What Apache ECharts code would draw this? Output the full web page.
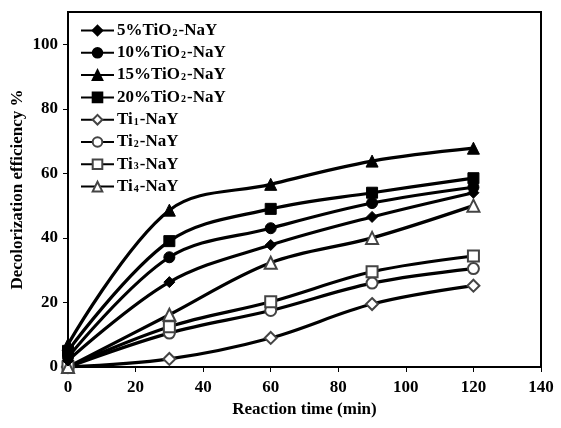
<!DOCTYPE html>
<html><head><meta charset="utf-8">
<script src="https://cdn.jsdelivr.net/npm/echarts@6/dist/echarts.min.js"></script>
<style>html,body{margin:0;padding:0;background:#fff}#c{width:561px;height:428px}</style>
</head><body><div id="c"></div>
<script>
const times = [0, 30, 60, 90, 120];
const names = ['5%TiO2-NaY','10%TiO2-NaY','15%TiO2-NaY','20%TiO2-NaY','Ti1-NaY','Ti2-NaY','Ti3-NaY','Ti4-NaY'];
const labels = ['5%TiO{s|2}-NaY','10%TiO{s|2}-NaY','15%TiO{s|2}-NaY','20%TiO{s|2}-NaY','Ti{s|1}-NaY','Ti{s|2}-NaY','Ti{s|3}-NaY','Ti{s|4}-NaY'];
const tio2_5  = [2, 26.3, 37.8, 46.5, 54];
const tio2_10 = [3, 34, 43, 50.8, 55.7];
const tio2_15 = [7, 48.6, 56.6, 63.8, 67.8];
const tio2_20 = [5, 39, 49, 54, 58.5];
const ti1 = [0, 2.5, 9, 19.5, 25.2];
const ti2 = [0, 10.5, 17.5, 26, 30.5];
const ti3 = [0, 12.5, 20.2, 29.5, 34.4];
const ti4 = [0, 16.2, 32.3, 40, 50];
const symbols = ['diamond','circle','triangle','rect','emptyDiamond','emptyCircle','emptyRect','emptyTriangle'];
const sizes = [11, 11, 12, 11, 12, 11, 11, 12];
const values = [tio2_5, tio2_10, tio2_15, tio2_20, ti1, ti2, ti3, ti4];

const font = '"Liberation Serif", "Times New Roman", serif';
const series = names.map((n, i) => ({
  name: n, type: 'line', smooth: 0.35,
  data: times.map((t, j) => [t, values[i][j]]),
  symbol: symbols[i], symbolSize: sizes[i],
  lineStyle: {color: '#000', width: 3.2},
  itemStyle: {color: i < 4 ? '#000' : '#444', borderColor: i < 4 ? '#000' : '#444', borderWidth: 1},
  z: i < 4 ? 3 : 2
}));
const chart = echarts.init(document.getElementById('c'), null, {renderer: 'canvas'});
chart.setOption({
  animation: false,
  backgroundColor: '#fff',
  grid: {left: 68, right: 20, top: 12, bottom: 61, show: true, borderColor: '#000', borderWidth: 2,
    containLabel: false, outerBoundsMode: 'none'},
  legend: {
    left: 75, top: 17, orient: 'vertical', itemWidth: 33, itemHeight: 12, itemGap: 5.3,
    data: names,
    formatter: n => labels[names.indexOf(n)],
    textStyle: {fontFamily: font, fontWeight: 'bold', fontSize: 17, color: '#000', padding: [0, 0, 0, -2],
      rich: {s: {fontFamily: font, fontWeight: 'bold', fontSize: 10, color: '#000', padding: [5, 1, 0, 1]}}}
  },
  xAxis: {
    type: 'value', min: 0, max: 140, interval: 20,
    name: 'Reaction time (min)', nameLocation: 'middle', nameGap: 32,
    nameTextStyle: {fontFamily: font, fontWeight: 'bold', fontSize: 17, color: '#000'},
    axisLine: {lineStyle: {color: '#000', width: 2}},
    axisTick: {show: true, length: 5, lineStyle: {color: '#000', width: 1}},
    axisLabel: {fontFamily: font, fontWeight: 'bold', fontSize: 17, color: '#000', margin: 12},
    splitLine: {show: false}
  },
  yAxis: {
    type: 'value', min: 0, max: 110, interval: 20,
    name: 'Decolorization efficiency %', nameLocation: 'middle', nameGap: 42, nameMoveOverlap: false,
    nameTextStyle: {fontFamily: font, fontWeight: 'bold', fontSize: 17, color: '#000'},
    axisLine: {lineStyle: {color: '#000', width: 2}},
    axisTick: {show: true, length: 5, lineStyle: {color: '#000', width: 1}},
    axisLabel: {fontFamily: font, fontWeight: 'bold', fontSize: 17, color: '#000', margin: 10, showMaxLabel: false,
      formatter: v => (v % 20 === 0 ? v : '')},
    splitLine: {show: false}
  },
  series: series
});
</script></body></html>
